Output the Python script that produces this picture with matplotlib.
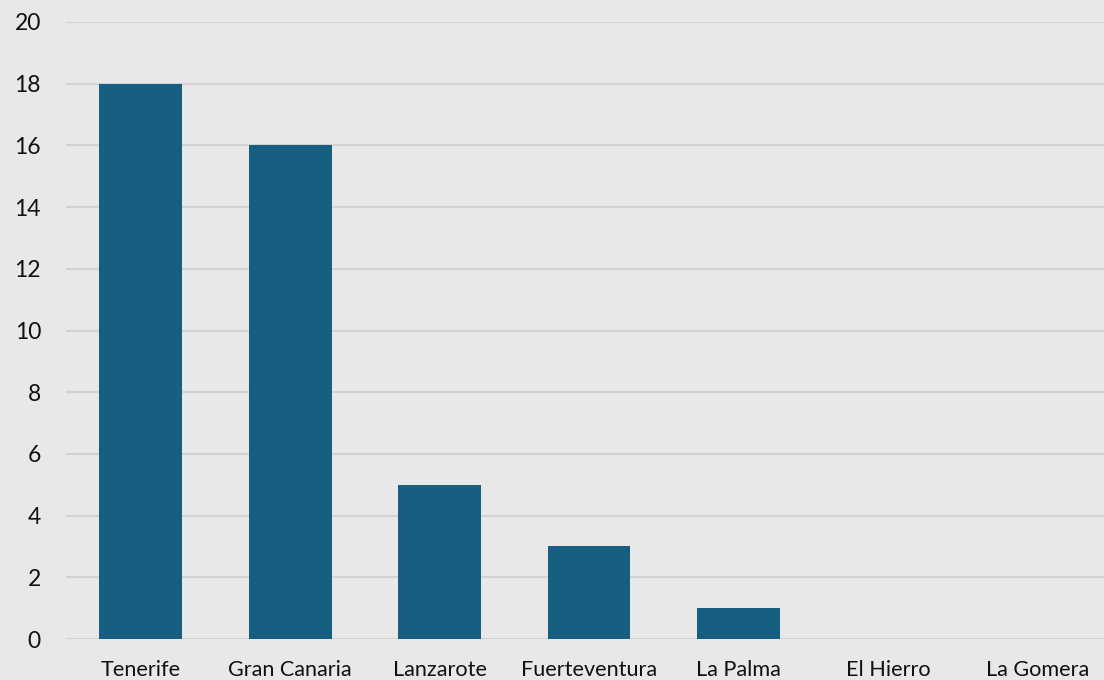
import matplotlib
matplotlib.use("Agg")
import matplotlib.pyplot as plt

categories = ["Tenerife", "Gran Canaria", "Lanzarote", "Fuerteventura", "La Palma", "El Hierro", "La Gomera"]
values = [18, 16, 5, 3, 1, 0, 0]
yticks = [0, 2, 4, 6, 8, 10, 12, 14, 16, 18, 20]

W, H = 1104, 680
fig = plt.figure(figsize=(W / 100, H / 100), dpi=100)
bg = "#e8e8e8"
fig.patch.set_facecolor(bg)
ax = fig.add_axes([66 / W, 41 / H, (1112 - 66) / W, (639 - 22) / H])
ax.set_facecolor(bg)

x = list(range(len(categories)))
ax.bar(x, values, width=0.555, color="#175f80", zorder=3)
ax.set_xlim(-0.5, len(categories) - 0.5)
ax.set_ylim(0, 20)
ax.set_yticks(yticks)
ax.set_xticks(x)
ax.set_xticklabels(categories)
ax.grid(axis="y", color="#d2d2d2", linewidth=1.5, zorder=0)
for s in ax.spines.values():
    s.set_visible(False)
ax.tick_params(axis="both", length=0, labelcolor="#111111")
ax.tick_params(axis="x", labelsize=15.6, pad=15)
ax.tick_params(axis="y", labelsize=16.5, pad=18)
for lab in ax.get_xticklabels() + ax.get_yticklabels():
    lab.set_family(["Lato", "DejaVu Sans"])
fig.savefig("out.png", dpi=100, facecolor=bg)
